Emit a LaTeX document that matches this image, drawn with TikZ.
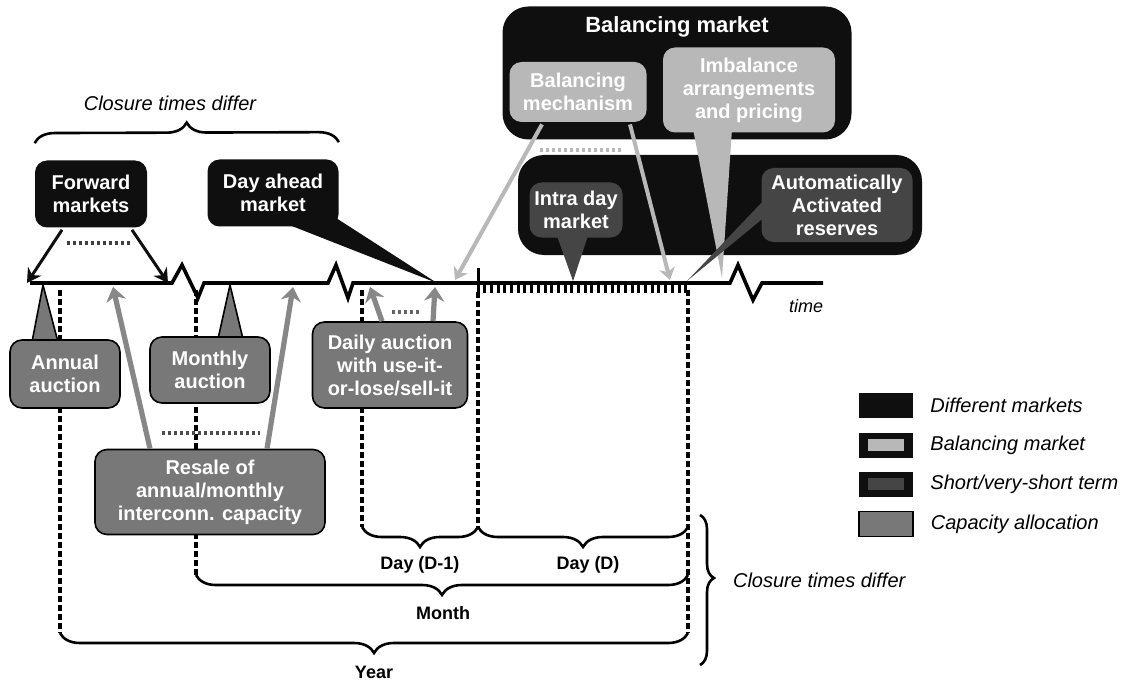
\documentclass[tikz,border=0pt]{standalone}
\usepackage{fontspec}
\setmainfont{Liberation Sans}
\usetikzlibrary{arrows.meta,positioning,calc,decorations.pathreplacing}

\definecolor{mkt}{gray}{0.06}
\definecolor{balg}{gray}{0.72}
\definecolor{stg}{gray}{0.27}
\definecolor{capg}{gray}{0.47}
\definecolor{arrg}{gray}{0.53}

\begin{document}
\begin{tikzpicture}[x=0.5pt, y=-0.5pt,
  box/.style={rounded corners=6pt, align=center, text=white, inner sep=2pt,
              font=\fontsize{10}{11.5}\selectfont\bfseries},
  mktbox/.style={box, fill=mkt},
  balbox/.style={box, fill=balg},
  stbox/.style={box, fill=stg},
  capbox/.style={box, fill=capg, draw=black, line width=0.8pt},
  captail/.style={fill=capg, draw=black, line width=0.8pt},
  tline/.style={line width=1.8pt, line join=miter},
  tick/.style={line width=1.5pt},
  vdash/.style={line width=1.8pt, dash pattern=on 3.2pt off 1.3pt},
  dotln/.style={line width=1.8pt, dash pattern=on 1.6pt off 1.4pt},
  fwdarr/.style={-{Stealth[length=7pt,width=8pt]}, line width=1.5pt, draw=mkt},
  caparr/.style={-{Stealth[length=7pt,width=10pt]}, line width=2.6pt, draw=arrg},
  balarr/.style={-{Stealth[length=6pt,width=8pt]}, line width=2pt, draw=balg},
  brc/.style={decorate, line width=1.3pt},
  brlab/.style={font=\fontsize{9}{11}\selectfont\bfseries},
  note/.style={font=\fontsize{10}{12}\selectfont\itshape},
  lgbox/.style={fill=mkt, minimum width=27pt, minimum height=12.5pt, inner sep=0pt},
  lgtxt/.style={font=\fontsize{10}{12}\selectfont\itshape, anchor=west}
]
\useasboundingbox (0,0) rectangle (1123,684);

% ================= Timeline points =================
\coordinate (tFwdL) at (27,283);
\coordinate (tFwdR) at (168,283);
\coordinate (tAnn) at (43,285);
\coordinate (tMon) at (230,285);
\coordinate (tResL) at (113,287);
\coordinate (tResR) at (293,287);
\coordinate (tDaL) at (370,287);
\coordinate (tDaR) at (435,287);
\coordinate (tDah) at (437,283);
\coordinate (tBalL) at (455,280);
\coordinate (tBalR) at (670,280);
\coordinate (tIntra) at (573,281);
\coordinate (tAuto) at (687,281);
\coordinate (tImb) at (722,278);

% ================= Dashed period lines =================
\draw[vdash] (60,290) -- (60,633);
\draw[vdash] (196,290) -- (196,575);
\draw[vdash] (362,290) -- (362,527);
\draw[vdash] (478,292) -- (478,527);
\draw[vdash] (688,290) -- (688,633);

% ================= Braces =================
\draw[brc, decoration={brace, mirror, amplitude=10pt}] (362,527) -- (478,527);
\draw[brc, decoration={brace, mirror, amplitude=10pt}] (478,527) -- (688,527);
\draw[brc, decoration={brace, mirror, amplitude=10pt}] (196,575) -- (688,575);
\draw[brc, decoration={brace, mirror, amplitude=10pt}] (60,633) -- (688,633);
\node[brlab] (dayPrev) at (420,565) {Day (D-1)};
\node[brlab] (dayCur) at (588,565) {Day (D)};
\node[brlab] (month) at (443,613) {Month};
\node[brlab] (year) at (374,672) {Year};

\draw[brc, decoration={brace, amplitude=7pt, aspect=0.42}] (700,515) -- (700,665);
\node[note, anchor=west] (closeRight) at (726,580) {Closure times differ};

% ================= Time axis =================
\draw[tline] (30,283) -- (172,283) -- (182,265) -- (198,298) -- (204,283)
  -- (328,283) -- (336,265) -- (348,298) -- (353,283)
  -- (730,283) -- (738,265) -- (753,300) -- (762,283) -- (823,283);
\foreach \i in {0,...,31}
  \draw[tick] ({478+\i*6.7},283) -- ++(0,10);
\draw[tick] (478,268) -- (478,283);
\node[note, font=\fontsize{9}{11}\selectfont\itshape] (time) at (806,306) {time};

% ================= Forward / day ahead =================
\node[mktbox, minimum width=56pt, minimum height=33.5pt] (fwd) at (91,194) {Forward\\markets};
\node[mktbox, minimum width=65.5pt, minimum height=33.5pt] (dah) at (273,193) {Day ahead\\market};
\fill[mkt] ($(dah.south)+(16,-2)$) -- (tDah) -- ($(dah.south east)+(-3,-9)$) -- cycle;
\draw[fwdarr] ($(fwd.south)+(-29,2)$) -- (tFwdL);
\draw[fwdarr] ($(fwd.south)+(41,2)$) -- (tFwdR);
\draw[dotln, draw=black!75] (67,243) -- (130,243);

\draw[brc, decoration={brace, amplitude=10pt}] ($(fwd.north west)+(0,-17)$) -- ($(dah.north east)+(0,-17)$);
\node[note] (closeTop) at (170,103) {Closure times differ};

% ================= Balancing market =================
\node[mktbox, rounded corners=13pt, minimum width=174.5pt, minimum height=66.5pt] (balMkt) at (677,73) {};
\node[box, font=\fontsize{11}{13}\selectfont\bfseries] (balTitle) at ($(balMkt.north)+(0,21)$) {Balancing market};
\node[mktbox, rounded corners=13pt, minimum width=202pt, minimum height=50pt] (stMkt) at (720,205) {};
\draw[dotln, draw=balg] (540,150) -- (623,150);

\node[balbox, minimum width=68.5pt, minimum height=30pt] (balMech) at (578,92) {Balancing\\mechanism};
\node[balbox, minimum width=86pt, minimum height=42.5pt] (imbal) at (749,90) {Imbalance\\arrangements\\and pricing};
\fill[balg] ($(imbal.south)+(-56,-4)$) -- (tImb) -- ($(imbal.south)+(-17,-4)$) -- cycle;

\node[stbox, minimum width=46.5pt, minimum height=27.5pt] (intra) at (576,210) {Intra day\\market};
\fill[stg] ($(intra.south)+(-19,-2)$) -- (tIntra) -- ($(intra.south)+(12,-2)$) -- cycle;
\node[stbox, minimum width=75.5pt, minimum height=37pt] (auto) at (837,205) {Automatically\\Activated\\reserves};
\fill[stg] ($(auto.west)+(2,-4)$) -- (tAuto) -- ($(auto.west)+(6,10)$) -- cycle;

\draw[balarr] ($(balMech.south)+(-36,2)$) -- (tBalL);
\draw[balarr] ($(balMech.south)+(52,2)$) -- (tBalR);

% ================= Capacity allocation =================
\filldraw[captail] (32,342) -- (tAnn) -- (58,342) -- cycle;
\filldraw[captail] (218,339) -- (tMon) -- (243,339) -- cycle;
\node[capbox, minimum width=55pt, minimum height=34pt] (annual) at (65,374) {Annual\\auction};
\node[capbox, minimum width=60pt, minimum height=33pt] (monthly) at (210,370) {Monthly\\auction};
\node[capbox, minimum width=77.5pt, minimum height=43pt] (daily) at (390,365) {Daily auction\\with use-it-\\or-lose/sell-it};
\node[capbox, minimum width=115pt, minimum height=42.5pt] (resale) at (210,492) {Resale of\\annual/monthly\\interconn. capacity};

\draw[caparr] ($(resale.north)+(-60,0)$) -- (tResL);
\draw[caparr] ($(resale.north)+(57,0)$) -- (tResR);
\draw[dotln, draw=black!70] (162,433) -- (260,433);
\draw[caparr] ($(daily.north)+(-8,0)$) -- (tDaL);
\draw[caparr] ($(daily.north)+(43,0)$) -- (tDaR);
\draw[dotln, draw=black!60] (392,312) -- (420,312);

% ================= Legend =================
\node[lgbox] (lgMkt) at (886,405) {};
\node[lgtxt, right=5pt of lgMkt] (lgMktTxt) {Different markets};
\node[lgbox] (lgBal) at (886,445) {};
\node[fill=balg, minimum width=18pt, minimum height=6pt, inner sep=0pt] (lgBalIn) at (lgBal) {};
\node[lgtxt, right=5pt of lgBal] (lgBalTxt) {Balancing market};
\node[lgbox] (lgSt) at (886,484) {};
\node[fill=stg, minimum width=18pt, minimum height=6pt, inner sep=0pt] (lgStIn) at (lgSt) {};
\node[lgtxt, right=5pt of lgSt] (lgStTxt) {Short/very-short term};
\node[lgbox, fill=capg, draw=black, line width=0.8pt] (lgCap) at (886,524) {};
\node[lgtxt, right=5pt of lgCap] (lgCapTxt) {Capacity allocation};

\end{tikzpicture}
\end{document}
